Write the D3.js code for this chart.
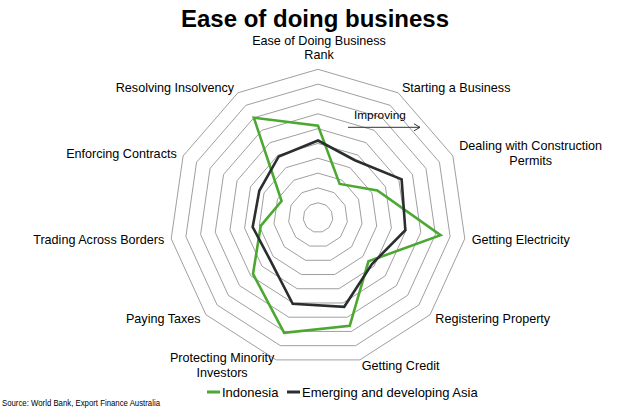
<!DOCTYPE html>
<html>
<head>
<meta charset="utf-8">
<script src="https://cdn.jsdelivr.net/npm/d3@7"></script>
<style>
  body { margin: 0; background: #fff; }
  text { font-family: Arial, "Liberation Sans", sans-serif; fill: #000; }
</style>
</head>
<body>
<div id="chart"></div>
<script>
// categories, clockwise from top
var categories = [
  ["Ease of Doing Business", "Rank"],
  ["Starting a Business"],
  ["Dealing with Construction", "Permits"],
  ["Getting Electricity"],
  ["Registering Property"],
  ["Getting Credit"],
  ["Protecting Minority", "Investors"],
  ["Paying Taxes"],
  ["Trading Across Borders"],
  ["Enforcing Contracts"],
  ["Resolving Insolvency"]
];

// values (0 = centre, 10 = outer ring)
var indonesia = [6.2, 2.7, 4.4, 8.35, 4.5, 7.6, 8.1, 5.8, 3.9, 2.7, 8.0];
var emergingAsia = [5.2, 4.6, 6.2, 5.95, 4.8, 6.27, 6.06, 4.3, 4.45, 4.35, 4.9];
var ringLevels = [1, 2, 3, 4, 5, 6, 7, 8, 9, 10];

var seriesNames = ["Indonesia", "Emerging and developing Asia"];
var seriesColors = ["#4ca831", "#2b2e30"];

var width = 629, height = 414;
var cx = 318, cy = 217.6, R = 148.3;

var svg = d3.select("#chart").append("svg")
    .attr("width", width)
    .attr("height", height);

var n = categories.length;
var angle = d3.scaleLinear().domain([0, n]).range([0, 2 * Math.PI]);
var r = d3.scaleLinear().domain([0, 10]).range([0, R]);

var g = svg.append("g")
    .attr("transform", "translate(" + cx + "," + cy + ")");

// rings
var ringLine = d3.lineRadial()
    .angle(function(d, i) { return angle(i); })
    .radius(function(d) { return r(d); })
    .curve(d3.curveLinearClosed);

g.selectAll(".ring")
  .data(ringLevels)
  .enter()
  .append("path")
    .attr("class", "ring")
    .attr("d", function(lv) { return ringLine(d3.range(n).map(function() { return lv; })); })
    .attr("fill", "none")
    .attr("stroke", "#949494")
    .attr("stroke-width", 0.9);

// series
g.selectAll(".series")
  .data([indonesia, emergingAsia])
  .enter()
  .append("path")
    .attr("class", "series")
    .attr("d", function(d) { return ringLine(d); })
    .attr("fill", "none")
    .attr("stroke", function(d, i) { return seriesColors[i]; })
    .attr("stroke-width", 2.6)
    .attr("stroke-linejoin", "miter");

// category labels
var lineH = 14.5;
categories.forEach(function(lines, i) {
  var a = angle(i);
  var s = Math.sin(a), c = Math.cos(a);
  var vx = r(10) * s, vy = -r(10) * c;
  var t = g.append("text").style("font-size", "12.6px");
  if (Math.abs(s) < 0.01) {
    // top label sits above the vertex
    lines.forEach(function(l, k) {
      t.append("tspan")
        .attr("x", vx + 1)
        .attr("y", vy - 10 - (lines.length - 1 - k) * lineH)
        .attr("text-anchor", "middle")
        .text(l);
    });
    return;
  }
  var x0 = vx + 7 * s;
  var yc = vy - 6 * c + 4;
  var y0 = yc - (lines.length - 1) * lineH / 2;
  var spans = lines.map(function(l, k) {
    return t.append("tspan").attr("y", y0 + k * lineH).text(l);
  });
  if (lines.length === 1) {
    spans[0].attr("x", x0).attr("text-anchor", s > 0 ? "start" : "end");
  } else {
    var w = d3.max(spans, function(sp) { return sp.node().getComputedTextLength(); });
    var mid = s > 0 ? x0 + w / 2 : x0 - w / 2;
    spans.forEach(function(sp) { sp.attr("x", mid).attr("text-anchor", "middle"); });
  }
});

// title
svg.append("text")
    .attr("x", 315)
    .attr("y", 27)
    .attr("text-anchor", "middle")
    .style("font-size", "24px")
    .style("font-weight", "bold")
    .text("Ease of doing business");

// "Improving" annotation
svg.append("text")
    .attr("x", 354)
    .attr("y", 118.5)
    .style("font-size", "11.8px")
    .text("Improving");
svg.append("line")
    .attr("x1", 348).attr("y1", 127.3)
    .attr("x2", 420).attr("y2", 127.3)
    .attr("stroke", "#333").attr("stroke-width", 1);
svg.append("path")
    .attr("d", "M414,123.8L420,127.3L414,130.8")
    .attr("fill", "none")
    .attr("stroke", "#333").attr("stroke-width", 1);

// legend
var legX = [207, 287];
seriesNames.forEach(function(name, i) {
  svg.append("line")
      .attr("x1", legX[i]).attr("x2", legX[i] + 13)
      .attr("y1", 392).attr("y2", 392)
      .attr("stroke", seriesColors[i])
      .attr("stroke-width", 3);
  svg.append("text")
      .attr("x", legX[i] + 15)
      .attr("y", 397)
      .style("font-size", "13px")
      .text(name);
});

// source
svg.append("text")
    .attr("x", 2)
    .attr("y", 406)
    .attr("textLength", 158)
    .attr("lengthAdjust", "spacingAndGlyphs")
    .style("font-size", "9px")
    .text("Source: World Bank, Export Finance Australia");
</script>
</body>
</html>
